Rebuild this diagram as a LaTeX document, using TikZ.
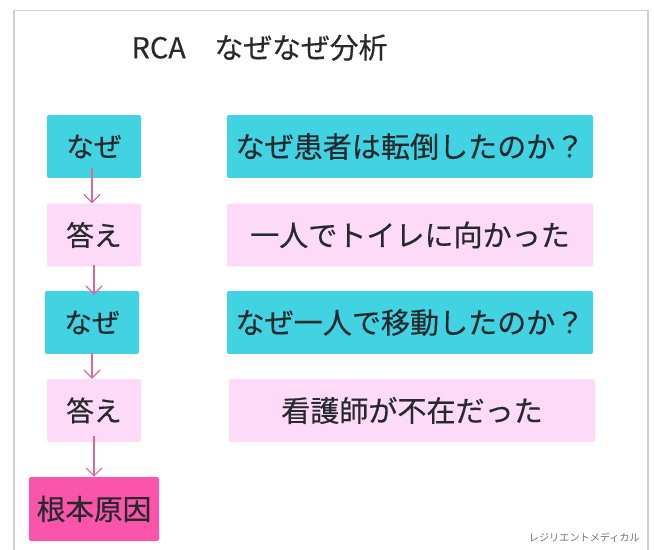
\documentclass[tikz,border=0pt]{standalone}
\usepackage{fontspec}
\setmainfont[RawFeature={embolden=0.35}]{Noto Sans CJK JP}
\newfontfamily\markfont{Noto Sans CJK JP}
\usetikzlibrary{arrows.meta}
\definecolor{cyanbox}{HTML}{41D3E2}
\definecolor{pinkbox}{HTML}{FDDAF8}
\definecolor{rootbox}{HTML}{FB55AB}
\definecolor{arrowc}{HTML}{E0659F}
\definecolor{inkc}{HTML}{26292D}
\definecolor{framec}{HTML}{CFCFCF}
\tikzset{
  x=0.75pt,y=-0.75pt,
  boxbase/.style={rounded corners=1.5pt,inner sep=0pt,text=inkc,font=\fontsize{20.8}{24}\selectfont,minimum height=47.2pt},
  whyleft/.style={boxbase,fill=cyanbox,minimum width=70.5pt},
  ansleft/.style={boxbase,fill=pinkbox,minimum width=70.5pt},
  rootnode/.style={boxbase,fill=rootbox,minimum width=97.5pt,minimum height=48pt,font=\fontsize{21.5}{25}\selectfont},
  whyright/.style={boxbase,fill=cyanbox,minimum width=274.5pt,font=\fontsize{21.8}{25}\selectfont},
  ansright/.style={boxbase,fill=pinkbox,minimum width=274.5pt,font=\fontsize{21.8}{25}\selectfont},
  flow/.style={draw=arrowc,line width=0.9pt,-{Straight Barb[length=6pt,width=12pt]}},
}
\begin{document}
\begin{tikzpicture}
\useasboundingbox (0,0) rectangle (654,550);
\fill[white] (0,0) rectangle (654,550);
\draw[framec,line width=1.4pt] (14,550) -- (14,10.5) -- (648,10.5) -- (648,550);
\node[text=inkc,font=\fontsize{21.6}{25}\selectfont,anchor=center,inner sep=0pt] (title) at (259.5,47.5) {RCA\hspace{1em}なぜなぜ分析};
\node[whyleft] (w1) at (94,146.5) {\raisebox{-1pt}{なぜ}};
\node[ansleft] (a1) at (94,235) {\raisebox{-1pt}{答え}};
\node[whyleft] (w2) at (92,322.5) {\raisebox{-1pt}{なぜ}};
\node[ansleft] (a2) at (94,410.5) {\raisebox{-1pt}{答え}};
\node[rootnode] (root) at (94,509) {根本原因};
\node[whyright] (r1) at (410,146.5) {なぜ患者は転倒したのか？};
\node[ansright] (r2) at (410,235) {一人でトイレに向かった};
\node[whyright] (r3) at (410,322.5) {なぜ一人で移動したのか？};
\node[ansright] (r4) at (412,410.5) {看護師が不在だった};
\node[text=black!55,font=\markfont\fontsize{7.6}{9}\selectfont,anchor=east,inner sep=0pt] (mark) at (640,538) {レジリエントメディカル};
\draw[flow,shorten <=-8pt] (w1.south -| 92,0) -- (a1.north -| 92,0);
\draw[flow,shorten <=-1pt,shorten >=-3pt] (a1.south -| 94,0) -- (w2.north -| 94,0);
\draw[flow,shorten <=-1pt] (w2.south -| 92,0) -- (a2.north -| 92,0);
\draw[flow,shorten <=-4.5pt] (a2.south -| 94,0) -- (root.north -| 94,0);
\end{tikzpicture}
\end{document}
